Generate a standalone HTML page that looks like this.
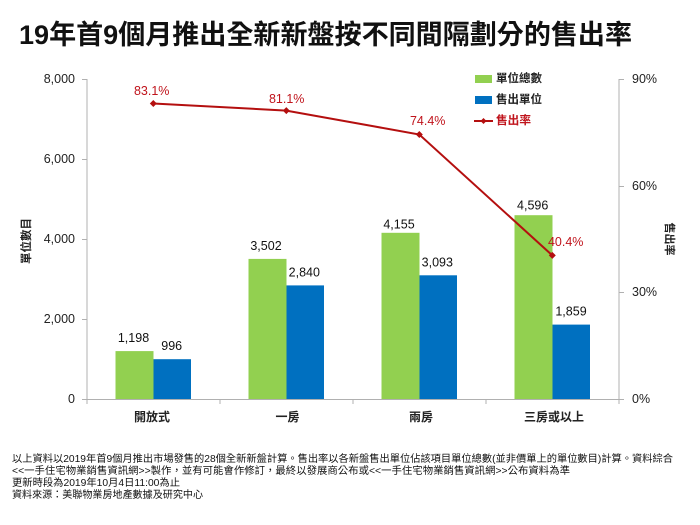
<!DOCTYPE html>
<html><head><meta charset="utf-8"><style>
html,body{margin:0;padding:0;background:#fff;}
svg{display:block;}
text{font-family:"Liberation Sans","Noto Sans CJK TC",sans-serif;}
</style></head><body>
<svg width="700" height="525" viewBox="0 0 700 525" xmlns="http://www.w3.org/2000/svg">
<rect width="700" height="525" fill="#fff"/>
<!-- Title -->
<text x="19" y="44" font-size="27" font-weight="bold" fill="#111" textLength="613" lengthAdjust="spacingAndGlyphs">19年首9個月推出全新新盤按不同間隔劃分的售出率</text>

<!-- Axes -->
<g stroke="#b0b0b0" stroke-width="1" fill="none">
<line x1="87" y1="79" x2="87" y2="399.5"/>
<line x1="619" y1="79" x2="619" y2="399.5"/>
<line x1="87" y1="399.5" x2="619" y2="399.5"/>
<line x1="82" y1="79.5" x2="87" y2="79.5"/>
<line x1="82" y1="159.5" x2="87" y2="159.5"/>
<line x1="82" y1="239.5" x2="87" y2="239.5"/>
<line x1="82" y1="319.5" x2="87" y2="319.5"/>
<line x1="82" y1="399.5" x2="87" y2="399.5"/>
<line x1="619" y1="79.5" x2="624" y2="79.5"/>
<line x1="619" y1="186.5" x2="624" y2="186.5"/>
<line x1="619" y1="292.5" x2="624" y2="292.5"/>
<line x1="619" y1="399.5" x2="624" y2="399.5"/>
<line x1="87" y1="399.5" x2="87" y2="404"/>
<line x1="220" y1="399.5" x2="220" y2="404"/>
<line x1="353" y1="399.5" x2="353" y2="404"/>
<line x1="486" y1="399.5" x2="486" y2="404"/>
<line x1="619" y1="399.5" x2="619" y2="404"/>
</g>

<!-- Left tick labels -->
<g font-size="12.5" fill="#222" text-anchor="end" dominant-baseline="central">
<text x="75" y="79">8,000</text>
<text x="75" y="159">6,000</text>
<text x="75" y="239">4,000</text>
<text x="75" y="319">2,000</text>
<text x="75" y="399">0</text>
</g>
<!-- Right tick labels -->
<g font-size="12.5" fill="#222" text-anchor="start" dominant-baseline="central">
<text x="632" y="79">90%</text>
<text x="632" y="186">60%</text>
<text x="632" y="292">30%</text>
<text x="632" y="399">0%</text>
</g>

<!-- Axis titles -->
<text transform="translate(27,241) rotate(-90)" font-size="11.5" font-weight="bold" fill="#222" text-anchor="middle" dominant-baseline="central">單位數目</text>
<text transform="translate(669,239) rotate(90)" font-size="11" font-weight="bold" fill="#222" text-anchor="middle" dominant-baseline="central">售出率</text>

<!-- Bars -->
<g fill="#92d050">
<rect x="115.5" y="351.1" width="38" height="47.9"/>
<rect x="248.5" y="258.9" width="38" height="140.1"/>
<rect x="381.5" y="232.8" width="38" height="166.2"/>
<rect x="514.5" y="215.2" width="38" height="183.8"/>
</g>
<g fill="#0070c0">
<rect x="153.5" y="359.2" width="37.5" height="39.8"/>
<rect x="286.5" y="285.4" width="37.5" height="113.6"/>
<rect x="419.5" y="275.3" width="37.5" height="123.7"/>
<rect x="552.5" y="324.6" width="37.5" height="74.4"/>
</g>

<!-- Bar value labels -->
<g font-size="12.5" fill="#111" text-anchor="middle" dominant-baseline="central">
<text x="133.5" y="338">1,198</text>
<text x="171.7" y="346">996</text>
<text x="266" y="246">3,502</text>
<text x="304.3" y="272.5">2,840</text>
<text x="399" y="224.5">4,155</text>
<text x="437.3" y="262.5">3,093</text>
<text x="532.7" y="205.5">4,596</text>
<text x="571" y="311.5">1,859</text>
</g>

<!-- Line series -->
<polyline points="153.3,103.5 286.3,110.6 419.3,134.5 552.3,255.4" fill="none" stroke="#b40f0f" stroke-width="2"/>
<g fill="#b40f0f">
<polygon points="153.3,100 156.8,103.5 153.3,107 149.8,103.5"/>
<polygon points="286.3,107.1 289.8,110.6 286.3,114.1 282.8,110.6"/>
<polygon points="419.3,131 422.8,134.5 419.3,138 415.8,134.5"/>
<polygon points="552.3,251.9 555.8,255.4 552.3,258.9 548.8,255.4"/>
</g>
<g font-size="12.5" fill="#c0141c" text-anchor="middle" dominant-baseline="central">
<text x="151.7" y="91">83.1%</text>
<text x="286.7" y="99">81.1%</text>
<text x="427.7" y="121">74.4%</text>
<text x="565.7" y="242">40.4%</text>
</g>

<!-- Legend -->
<rect x="475" y="75" width="17" height="8" fill="#92d050"/>
<text x="496" y="79" font-size="11.5" font-weight="bold" fill="#222" dominant-baseline="central" textLength="46" lengthAdjust="spacingAndGlyphs">單位總數</text>
<rect x="475" y="96" width="17" height="8" fill="#0070c0"/>
<text x="496" y="100" font-size="11.5" font-weight="bold" fill="#222" dominant-baseline="central" textLength="46" lengthAdjust="spacingAndGlyphs">售出單位</text>
<line x1="474" y1="121" x2="493" y2="121" stroke="#b40f0f" stroke-width="2"/>
<polygon points="483.5,118 486.5,121 483.5,124 480.5,121" fill="#b40f0f"/>
<text x="496" y="121" font-size="11.5" font-weight="bold" fill="#c0141c" dominant-baseline="central" textLength="35" lengthAdjust="spacingAndGlyphs">售出率</text>

<!-- Category labels -->
<g font-size="12" font-weight="bold" fill="#222" text-anchor="middle" dominant-baseline="central">
<text x="152" y="417">開放式</text>
<text x="287.5" y="417">一房</text>
<text x="421" y="417">兩房</text>
<text x="554" y="417">三房或以上</text>
</g>

<!-- Footer -->
<g font-size="10.3" fill="#111">
<text x="12" y="462" textLength="661" lengthAdjust="spacingAndGlyphs">以上資料以2019年首9個月推出市場發售的28個全新新盤計算。售出率以各新盤售出單位佔該項目單位總數(並非價單上的單位數目)計算。資料綜合</text>
<text x="12" y="474" textLength="558" lengthAdjust="spacingAndGlyphs">&lt;&lt;一手住宅物業銷售資訊網&gt;&gt;製作，並有可能會作修訂，最終以發展商公布或&lt;&lt;一手住宅物業銷售資訊網&gt;&gt;公布資料為準</text>
<text x="12" y="486" textLength="168" lengthAdjust="spacingAndGlyphs">更新時段為2019年10月4日11:00為止</text>
<text x="12" y="498" textLength="191" lengthAdjust="spacingAndGlyphs">資料來源：美聯物業房地產數據及研究中心</text>
</g>
</svg>
</body></html>
